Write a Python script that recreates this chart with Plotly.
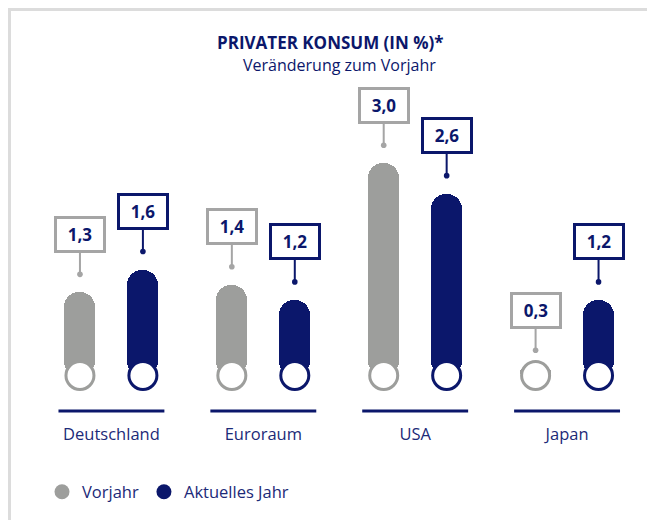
import plotly.graph_objects as go

# ---------------- data ----------------
categories = ["Deutschland", "Euroraum", "USA", "Japan"]
vorjahr = [1.3, 1.4, 3.0, 0.3]
aktuelles_jahr = [1.6, 1.2, 2.6, 1.2]
series_names = ["Vorjahr", "Aktuelles Jahr"]
title_text = "PRIVATER KONSUM (IN %)*"
subtitle_text = "Veränderung zum Vorjahr"

# ---------------- style ----------------
NAVY = "#0b176b"
GRAY = "#9d9e9c"
BOX_GRAY = "#a5a5a5"
LABEL_NAVY = "#1c2a78"
FONT = "Open Sans"

PAGE_OFF = 8  # page body margin: screen px = figure px + 8

W, H = 655, 520


def fp(screen_px):
    """screen pixel target -> figure pixel"""
    return screen_px - PAGE_OFF


L = fp(36)
T = fp(20)
plot_bottom = fp(411)
plot_right = fp(642.5)
R = W - plot_right
B = H - plot_bottom
plot_w = W - L - R
plot_h = H - T - B

PX_PER_UNIT = 75.9
zero_px = fp(391)
y_max = (zero_px - T) / PX_PER_UNIT
y_min = -(plot_bottom - zero_px) / PX_PER_UNIT

GROUP_PX = 152
x_min = -(fp(111.5) - L) / GROUP_PX
x_max = x_min + plot_w / GROUP_PX
OFFSET = 31.5 / GROUP_PX
BAR_W = 31 / GROUP_PX
R_CIRCLE = 15.5
base = R_CIRCLE / PX_PER_UNIT


def paper_x(screen_px):
    return (fp(screen_px) - L) / plot_w


def paper_y(screen_px):
    return (plot_bottom - fp(screen_px)) / plot_h


def fmt(v):
    return f"{v:.1f}".replace(".", ",")


fig = go.Figure()

series = [
    (vorjahr, GRAY, BOX_GRAY, -1, series_names[0]),
    (aktuelles_jahr, NAVY, NAVY, 1, series_names[1]),
]

annotations = []
for values, color, boxcol, sign, name in series:
    xs = [i + sign * OFFSET for i in range(len(categories))]
    fig.add_trace(go.Bar(
        x=xs, y=[v - base for v in values], base=base, width=BAR_W,
        marker=dict(color=color, cornerradius="50%", line_width=0),
        showlegend=False, hoverinfo="skip",
    ))
    for xv, v in zip(xs, values):
        annotations.append(dict(
            x=xv, y=v, xref="x", yref="y",
            text=f"<b>{fmt(v)}</b>",
            showarrow=True, arrowhead=6, arrowsize=0.7, arrowwidth=2,
            arrowcolor=boxcol, ax=0, ay=-58, standoff=18,
            bordercolor=boxcol, borderwidth=3, borderpad=0,
            bgcolor="white", width=46, height=31,
            font=dict(family=FONT, size=17, color=NAVY),
        ))

for values, color, boxcol, sign, name in series:
    xs = [i + sign * OFFSET for i in range(len(categories))]
    fig.add_trace(go.Scatter(
        x=xs, y=[base] * len(values), mode="markers",
        marker=dict(size=28, color="white", line=dict(color=color, width=3)),
        showlegend=False, hoverinfo="skip", cliponaxis=False,
    ))

for values, color, boxcol, sign, name in series:
    fig.add_trace(go.Scatter(
        x=[None], y=[None], mode="markers", name=name,
        marker=dict(size=15, color=color),
    ))

shapes = []
for i in range(len(categories)):
    shapes.append(dict(
        type="line", xref="x", yref="paper",
        x0=i - 53 / GROUP_PX, x1=i + 53 / GROUP_PX, y0=0, y1=0,
        line=dict(color=NAVY, width=3),
    ))
# panel border (left + top)
shapes.append(dict(
    type="path", xref="paper", yref="paper",
    path=(f"M {paper_x(9.5)},{paper_y(560)} L {paper_x(9.5)},{paper_y(9.5)} "
          f"L {paper_x(700)},{paper_y(9.5)}"),
    line=dict(color="#dcdcdc", width=3),
))

annotations.append(dict(
    xref="paper", yref="paper", x=paper_x(331), y=paper_y(42.5),
    text=f"<b>{title_text}</b>", showarrow=False, yanchor="middle",
    font=dict(family=FONT, size=17, color=NAVY),
))
annotations.append(dict(
    xref="paper", yref="paper", x=paper_x(340), y=paper_y(64.5),
    text=subtitle_text, showarrow=False, yanchor="middle",
    font=dict(family=FONT, size=16, color=NAVY),
))

fig.update_layout(
    width=W, height=H, autosize=False,
    margin=dict(l=L, r=R, t=T, b=B),
    paper_bgcolor="white", plot_bgcolor="white",
    bargap=0, barmode="overlay",
    xaxis=dict(
        range=[x_min, x_max], tickvals=list(range(len(categories))),
        ticktext=categories, showgrid=False, zeroline=False, showline=False,
        ticks="", ticklabelstandoff=11,
        tickfont=dict(family=FONT, size=16.5, color=LABEL_NAVY), fixedrange=True,
    ),
    yaxis=dict(range=[y_min, y_max], visible=False, fixedrange=True),
    legend=dict(
        orientation="h", x=paper_x(42), y=paper_y(492),
        xanchor="left", yanchor="middle",
        font=dict(family=FONT, size=16.5, color=LABEL_NAVY),
        bgcolor="rgba(0,0,0,0)",
    ),
    shapes=shapes,
    annotations=annotations,
)

fig.write_html("out.html", config={"displayModeBar": False})
